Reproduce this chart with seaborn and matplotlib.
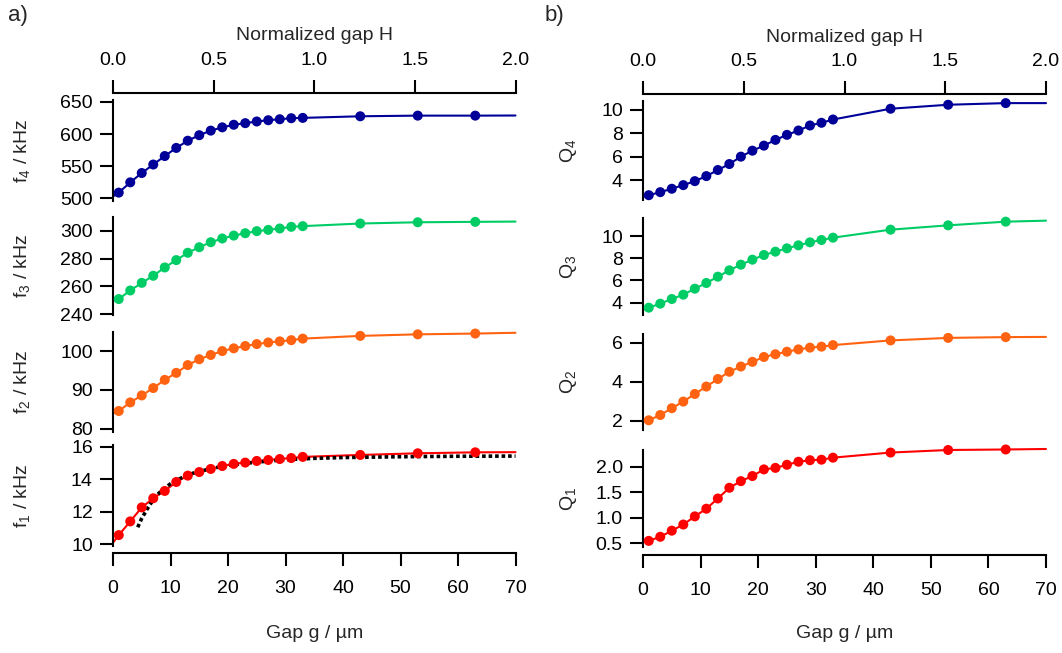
import matplotlib
matplotlib.use('Agg')
import matplotlib.pyplot as plt
import seaborn as sns

# ---------------- data ----------------
gap = [1, 3, 5, 7, 9, 11, 13, 15, 17, 19, 21, 23, 25, 27, 29, 31, 33, 43, 53, 63]
line_gap_ends = [0, 70]

f4 = [509, 525, 539.5, 552.7, 565.9, 578.5, 589.7, 598.3, 605.4, 610.5, 614.5, 617,
      619.6, 621.6, 623.1, 624.7, 625.2, 627.7, 628.7, 628.7]
f4_ends = [503, 628.9]
f3 = [250.8, 257, 262.5, 267.6, 273.6, 278.9, 284.2, 288.2, 291.8, 294.5, 296.6, 298.3,
      299.8, 300.7, 301.7, 302.9, 303.4, 305.3, 306.2, 306.5]
f3_ends = [249.4, 306.7]
f2 = [84.6, 86.8, 88.6, 90.5, 92.6, 94.4, 96.4, 97.9, 99.0, 100.0, 100.7, 101.3,
      101.8, 102.2, 102.5, 102.8, 103.2, 103.9, 104.3, 104.5]
f2_ends = [84.0, 104.7]
f1 = [10.57, 11.41, 12.27, 12.83, 13.28, 13.83, 14.22, 14.44, 14.63, 14.81, 14.94, 15.02,
      15.12, 15.18, 15.24, 15.30, 15.37, 15.49, 15.59, 15.65]
f1_ends = [10.1, 15.66]

# model curve (dotted) for f1
model_gap = [4.3, 5, 6, 7, 8, 9, 10, 12, 14, 17, 20, 25, 30, 35, 40, 50, 60, 70]
model_f1 = [11.05, 11.6, 12.2, 12.75, 13.15, 13.45, 13.72, 14.1, 14.38, 14.65, 14.85,
            15.05, 15.2, 15.28, 15.33, 15.38, 15.41, 15.42]

q4 = [2.71, 2.97, 3.26, 3.57, 3.91, 4.34, 4.86, 5.37, 6.0, 6.51, 6.94, 7.43, 7.86,
      8.23, 8.66, 8.89, 9.17, 10.09, 10.43, 10.57]
q4_ends = [2.57, 10.57]
q3 = [3.55, 3.91, 4.33, 4.72, 5.26, 5.77, 6.34, 6.91, 7.42, 7.87, 8.29, 8.59, 8.89,
      9.16, 9.43, 9.64, 9.85, 10.57, 10.96, 11.29]
q3_ends = [3.34, 11.38]
q2 = [2.02, 2.29, 2.64, 2.98, 3.37, 3.75, 4.14, 4.51, 4.78, 5.02, 5.27, 5.41, 5.54,
      5.66, 5.75, 5.80, 5.88, 6.12, 6.25, 6.29]
q2_ends = [1.93, 6.30]
q1 = [0.55, 0.63, 0.75, 0.87, 1.03, 1.18, 1.38, 1.59, 1.72, 1.82, 1.95, 1.98, 2.04,
      2.10, 2.13, 2.14, 2.18, 2.28, 2.33, 2.34]
q1_ends = [0.53, 2.35]

gap_ticks = [0, 10, 20, 30, 40, 50, 60, 70]
H_ticks = [0.0, 0.5, 1.0, 1.5, 2.0]
H_tick_labels = ['0.0', '0.5', '1.0', '1.5', '2.0']

f4_ticks = [500, 550, 600, 650]
f3_ticks = [240, 260, 280, 300]
f2_ticks = [80, 90, 100]
f1_ticks = [10, 12, 14, 16]
q4_ticks = [4, 6, 8, 10]
q3_ticks = [4, 6, 8, 10]
q2_ticks = [2, 4, 6]
q1_ticks = [0.5, 1.0, 1.5, 2.0]
q1_tick_labels = ['0.5', '1.0', '1.5', '2.0']

c_blue = '#000099'
c_green = '#00CC66'
c_orange = '#FF6311'
c_red = '#FF0000'

# ---------------- style ----------------
sns.set_theme(style='white')
plt.rcParams['font.family'] = ['Liberation Sans', 'DejaVu Sans']
plt.rcParams['mathtext.default'] = 'regular'

W, H = 1062, 653
fig = plt.figure(figsize=(W / 100, H / 100), dpi=100)
FS = 14
TL = 9.5
LW = 1.5


def add_ax(x0, x1, ytop, ybot):
    return fig.add_axes([x0 / W, 1 - ybot / H, (x1 - x0) / W, (ybot - ytop) / H])


def style_panel(ax, ylim, yticks, ylabel, ylabel_x, yticklabels=None):
    ax.set_xlim(0, 70)
    ax.set_ylim(*ylim)
    ax.set_yticks(yticks)
    if yticklabels is not None:
        ax.set_yticklabels(yticklabels)
    for s in ['top', 'right', 'bottom']:
        ax.spines[s].set_visible(False)
    ax.spines['left'].set_color('black')
    ax.spines['left'].set_linewidth(LW)
    ax.tick_params(axis='y', left=True, direction='out', length=TL, width=LW,
                   labelsize=FS, pad=5, colors='black')
    ax.tick_params(axis='x', bottom=False, labelbottom=False, top=False, labeltop=False)
    ax.set_facecolor('none')
    ax.grid(False)
    ax.set_ylabel(ylabel, fontsize=FS)
    ax.yaxis.set_label_coords(ylabel_x, 0.5)
    ax.yaxis.label.set_va('center')
    ax.set_xlabel('')


def draw(ax, vals, ends, color):
    lx = [line_gap_ends[0]] + gap + [line_gap_ends[1]]
    ly = [ends[0]] + vals + [ends[1]]
    sns.lineplot(x=lx, y=ly, ax=ax, color=color, lw=LW, sort=False, estimator=None,
                 zorder=2, clip_on=False)
    sns.scatterplot(x=gap, y=vals, ax=ax, color=color, s=52, edgecolor='none',
                    linewidth=0, zorder=3, clip_on=False)


def add_bottom(ax, offset):
    ax.spines['bottom'].set_visible(True)
    ax.spines['bottom'].set_color('black')
    ax.spines['bottom'].set_linewidth(LW)
    ax.spines['bottom'].set_position(('outward', offset))
    ax.set_xticks(gap_ticks)
    ax.tick_params(axis='x', bottom=True, labelbottom=True, direction='out', length=TL,
                   width=LW, labelsize=FS, pad=10, colors='black')
    ax.set_xlabel('Gap g / µm', fontsize=FS)


def add_top(ax):
    tw = ax.twiny()
    tw.set_xlim(H_ticks[0], H_ticks[-1])
    for s in ['bottom', 'left', 'right']:
        tw.spines[s].set_visible(False)
    tw.spines['top'].set_color('black')
    tw.spines['top'].set_linewidth(LW)
    tw.spines['top'].set_position(('outward', 5))
    tw.set_xticks(H_ticks)
    tw.set_xticklabels(H_tick_labels)
    tw.tick_params(axis='x', top=True, labeltop=True, bottom=False, labelbottom=False,
                   direction='out', length=TL, width=LW, labelsize=FS, pad=8,
                   colors='black')
    tw.set_xlabel('Normalized gap H', fontsize=FS)
    tw.xaxis.set_label_coords(0.5, 1.64)
    tw.xaxis.label.set_va('center')
    tw.grid(False)
    return tw


# ---------------- left column ----------------
LX0, LX1 = 113, 515.5
lyx = -0.225
a4 = add_ax(LX0, LX1, 100, 201)
a3 = add_ax(LX0, LX1, 217, 315)
a2 = add_ax(LX0, LX1, 332, 432)
a1 = add_ax(LX0, LX1, 445, 546)
add_top(a4)
draw(a4, f4, f4_ends, c_blue)
draw(a3, f3, f3_ends, c_green)
draw(a2, f2, f2_ends, c_orange)
sns.lineplot(x=model_gap, y=model_f1, ax=a1, color='black', lw=2.6, sort=False,
             estimator=None, zorder=2.5)
a1.lines[-1].set_linestyle((0, (1, 0.8)))
draw(a1, f1, f1_ends, c_red)
style_panel(a4, (496, 653), f4_ticks, 'f$_4$ / kHz', lyx)
style_panel(a3, (239.3, 310), f3_ticks, 'f$_3$ / kHz', lyx)
style_panel(a2, (79.2, 104.9), f2_ticks, 'f$_2$ / kHz', lyx)
style_panel(a1, (9.9, 16.1), f1_ticks, 'f$_1$ / kHz', lyx)
add_bottom(a1, 5)
a1.xaxis.set_label_coords(0.5, (546 - 634) / 101)
a1.xaxis.label.set_va('center')

# ---------------- right column ----------------
RX0, RX1 = 643, 1046
ryx = -0.186
b4 = add_ax(RX0, RX1, 101, 200)
b3 = add_ax(RX0, RX1, 218, 315)
b2 = add_ax(RX0, RX1, 334, 430)
b1 = add_ax(RX0, RX1, 450, 547)
add_top(b4)
draw(b4, q4, q4_ends, c_blue)
draw(b3, q3, q3_ends, c_green)
draw(b2, q2, q2_ends, c_orange)
draw(b1, q1, q1_ends, c_red)
style_panel(b4, (2.3, 10.75), q4_ticks, 'Q$_4$', ryx)
style_panel(b3, (2.89, 11.62), q3_ticks, 'Q$_3$', ryx)
style_panel(b2, (1.52, 6.45), q2_ticks, 'Q$_2$', ryx)
style_panel(b1, (0.43, 2.33), q1_ticks, 'Q$_1$', ryx, q1_tick_labels)
add_bottom(b1, 6)
b1.xaxis.set_label_coords(0.5, (547 - 634) / 97)
b1.xaxis.label.set_va('center')

fig.text(8 / W, 1 - 16 / H, 'a)', fontsize=16, ha='left', va='center')
fig.text(545 / W, 1 - 16 / H, 'b)', fontsize=16, ha='left', va='center')

fig.savefig('out.png', dpi=100, facecolor='white')
